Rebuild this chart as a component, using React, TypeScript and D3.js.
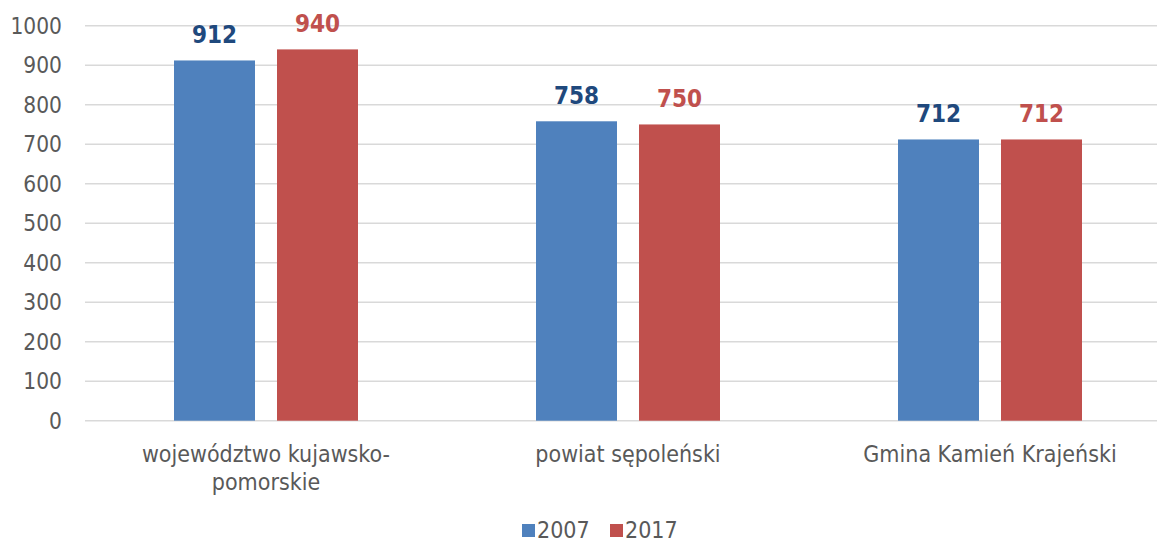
import React from "react";
import * as d3 from "d3";

const categories = ["województwo kujawsko-pomorskie", "powiat sępoleński", "Gmina Kamień Krajeński"];
const categoryLines = [["województwo kujawsko-", "pomorskie"], ["powiat sępoleński"], ["Gmina Kamień Krajeński"]];
const seriesNames = ["2007", "2017"];
const values2007 = [912, 758, 712];
const values2017 = [940, 750, 712];
const yTicks = [0, 100, 200, 300, 400, 500, 600, 700, 800, 900, 1000];

const W = 1157;
const H = 544;
const barColors = ["#4F81BD", "#C0504D"];
const labelColors = ["#1F497D", "#C0504D"];
const FONT = "'DejaVu Sans Condensed', 'DejaVu Sans', sans-serif";

export default function App() {
  const left = 85;
  const right = 1171;
  const x = d3.scaleBand<string>().domain(categories).range([left, right]).paddingInner(0).paddingOuter(0);
  const bandW = x.bandwidth();
  const barW = 81;
  const gap = 22;
  const y = d3.scaleLinear().domain([0, 1000]).range([420.7, 25.7]);
  const series = [values2007, values2017];

  return (
    <svg width={W} height={H} style={{ position: "absolute", left: 0, top: 0, background: "#fff" }} fontFamily={FONT}>
      {yTicks.map((t) => (
        <g key={t}>
          <line x1={left} x2={W} y1={y(t)} y2={y(t)} stroke="#d9d9d9" strokeWidth={1.6} />
          <text x={62} y={y(t)} dy="0.36em" textAnchor="end" fontSize={22.5} fill="#595959">
            {t}
          </text>
        </g>
      ))}
      {categories.map((c, i) => {
        const cx = (x(c) as number) + bandW / 2;
        return (
          <g key={c}>
            {series.map((vals, s) => {
              const bx = s === 0 ? cx - gap / 2 - barW : cx + gap / 2;
              return (
                <g key={s}>
                  <rect x={bx} y={y(vals[i])} width={barW} height={y(0) - y(vals[i])} fill={barColors[s]} />
                  <text
                    x={bx + barW / 2}
                    y={y(vals[i]) - 17}
                    textAnchor="middle"
                    fontSize={24}
                    fontWeight="bold"
                    fill={labelColors[s]}
                  >
                    {vals[i]}
                  </text>
                </g>
              );
            })}
            {categoryLines[i].map((ln, k) => (
              <text key={k} x={cx} y={462 + k * 28} textAnchor="middle" fontSize={23} fill="#595959">
                {ln}
              </text>
            ))}
          </g>
        );
      })}
      {seriesNames.map((n, s) => {
        const lx = 522 + s * 88;
        return (
          <g key={n}>
            <rect x={lx} y={524} width={13} height={13} fill={barColors[s]} />
            <text x={lx + 15} y={538} fontSize={23} fill="#595959">
              {n}
            </text>
          </g>
        );
      })}
    </svg>
  );
}
